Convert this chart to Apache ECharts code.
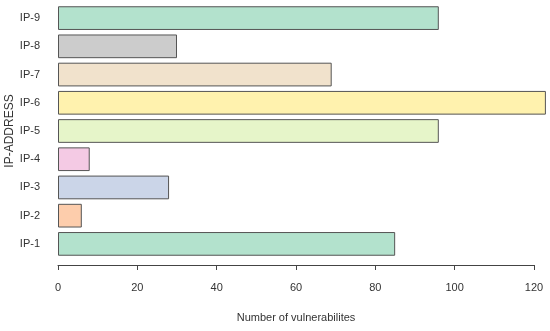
<!DOCTYPE html>
<html><head><meta charset="utf-8">
<script src="https://cdn.jsdelivr.net/npm/echarts@6/dist/echarts.min.js"></script>
<style>html,body{margin:0;padding:0;background:#fff}#c{width:550px;height:331px}</style>
</head><body><div id="c"></div>
<script>
const categories = ['IP-1','IP-2','IP-3','IP-4','IP-5','IP-6','IP-7','IP-8','IP-9'];
const values = [85, 6, 28, 8, 96, 123, 69, 30, 96];
const colors = ['#b3e2cd','#fdcdac','#cbd5e8','#f4cae4','#e6f5c9','#fff2ae','#f1e2cc','#cccccc','#b3e2cd'];
const xTicks = [0, 20, 40, 60, 80, 100, 120];

const chart = echarts.init(document.getElementById('c'), null, {renderer:'canvas'});
const font = 'Liberation Sans, Arial, sans-serif';
chart.setOption({
  animation: false,
  grid: {left: 58, right: 16, top: 4, bottom: 73, containLabel: false, outerBoundsMode: 'none'},
  xAxis: {
    type: 'value', min: xTicks[0], max: xTicks[xTicks.length-1], interval: 20,
    offset: 7,
    axisLine: {show: true, lineStyle: {color: '#444', width: 1}},
    axisTick: {show: true, length: 5, lineStyle: {color: '#444'}},
    splitLine: {show: false},
    axisLabel: {color: '#333', fontSize: 11, fontFamily: font, margin: 17},
    name: 'Number of vulnerabilites', nameLocation: 'middle', nameGap: 47, nameMoveOverlap: false,
    nameTextStyle: {color: '#333', fontSize: 11, fontFamily: font}
  },
  yAxis: {
    type: 'category', data: categories,
    axisLine: {show: false}, axisTick: {show: false},
    axisLabel: {color: '#333', fontSize: 11, fontFamily: font, margin: 18},
    name: 'IP-ADDRESS', nameLocation: 'middle', nameGap: 48, nameRotate: 90, nameMoveOverlap: false,
    nameTextStyle: {color: '#333', fontSize: 12, fontFamily: font, verticalAlign: 'middle'}
  },
  series: [{
    type: 'bar', clip: false, barCategoryGap: '16%',
    data: values.map((v,i) => ({value: v, itemStyle: {color: colors[i]}})),
    itemStyle: {borderColor: '#555', borderWidth: 1}
  }]
});
</script></body></html>
